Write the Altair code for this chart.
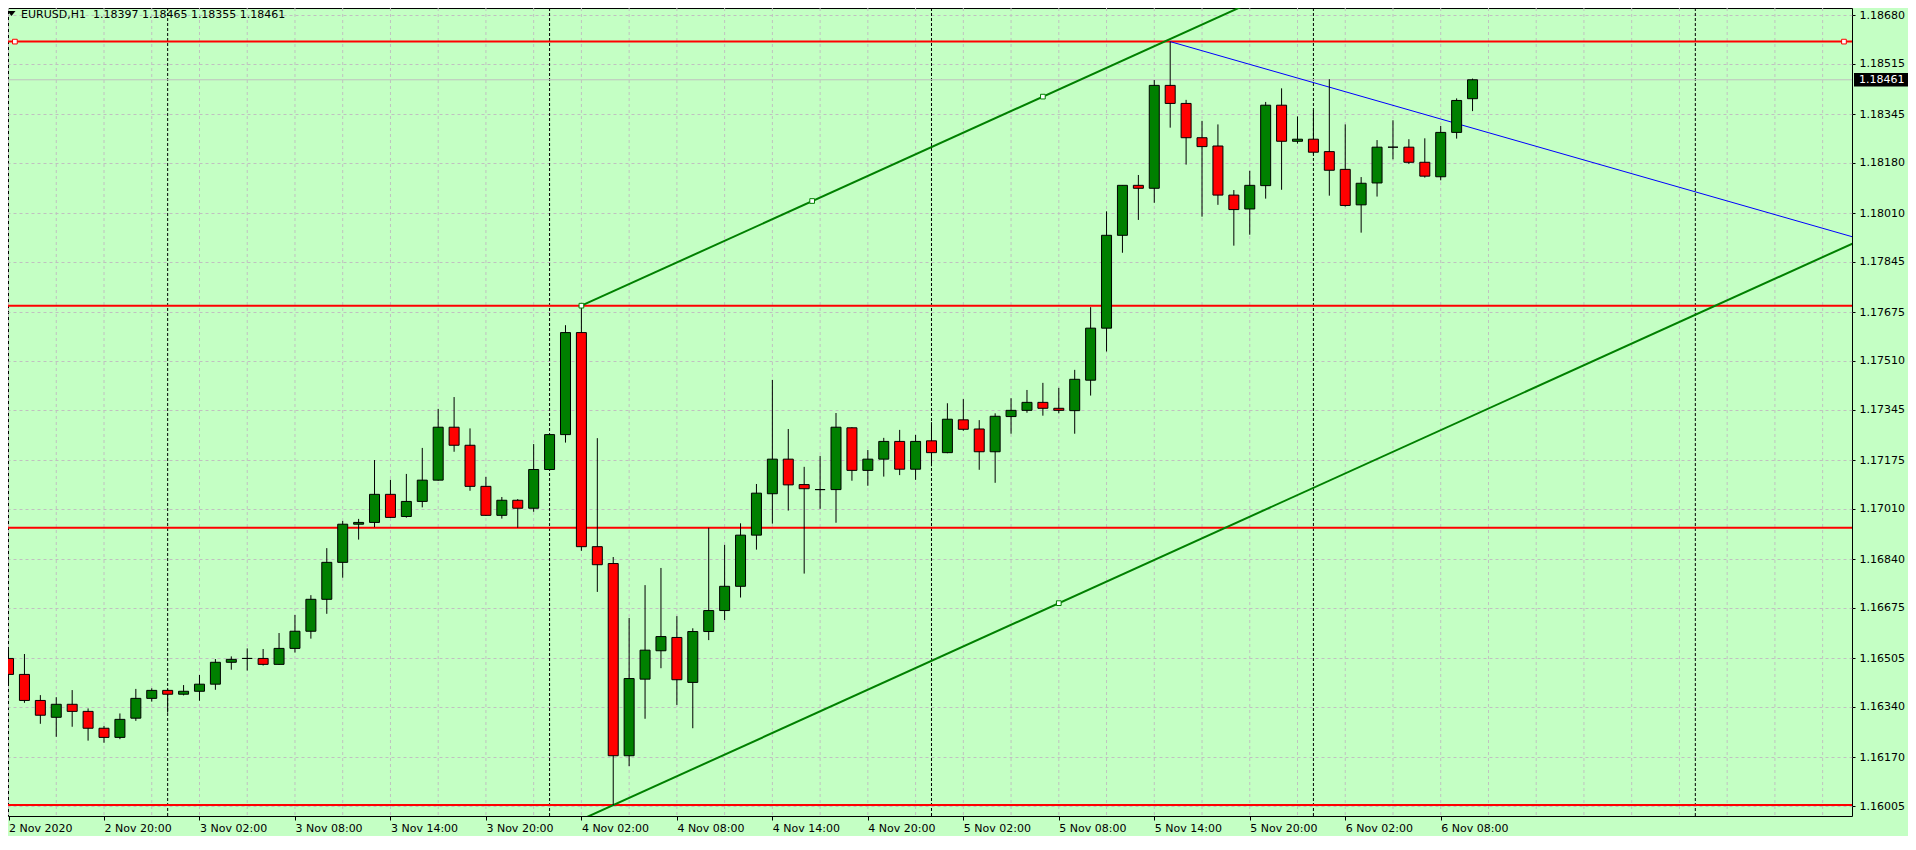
import json
import altair as alt
import pandas as pd

# ---------------- data ----------------
bars = list(range(93))  # hourly bars, bar 0 = 2 Nov 2020 14:00
opens = [1.16504, 1.16450, 1.16362, 1.16305, 1.16349, 1.16325, 1.16268, 1.16237, 1.16302, 1.16369,
         1.16396, 1.16383, 1.16393, 1.16417, 1.16491, 1.16504, 1.16504, 1.16484, 1.16538, 1.16596,
         1.16704, 1.16829, 1.16958, 1.16964, 1.17059, 1.16984, 1.17035, 1.17107, 1.17286, 1.17225,
         1.17086, 1.16988, 1.17039, 1.17012, 1.17143, 1.17261, 1.17606, 1.16882, 1.16825, 1.16175,
         1.16434, 1.16530, 1.16575, 1.16423, 1.16595, 1.16666, 1.16748, 1.16921, 1.17061, 1.17178,
         1.17092, 1.17075, 1.17075, 1.17284, 1.17140, 1.17178, 1.17238, 1.17144, 1.17240, 1.17200,
         1.17311, 1.17280, 1.17203, 1.17322, 1.17343, 1.17370, 1.17350, 1.17342, 1.17445, 1.17621,
         1.17935, 1.18104, 1.18094, 1.18442, 1.18381, 1.18265, 1.18237, 1.18071, 1.18024, 1.18103,
         1.18375, 1.18253, 1.18260, 1.18218, 1.18158, 1.18038, 1.18112, 1.18233, 1.18233, 1.18182,
         1.18133, 1.18283, 1.18397]
highs = [1.16535, 1.16519, 1.16380, 1.16373, 1.16397, 1.16335, 1.16276, 1.16318, 1.16401, 1.16403,
         1.16401, 1.16414, 1.16448, 1.16502, 1.16511, 1.16538, 1.16536, 1.16590, 1.16651, 1.16718,
         1.16877, 1.16969, 1.16976, 1.17175, 1.17108, 1.17128, 1.17216, 1.17348, 1.17388, 1.17282,
         1.17118, 1.17050, 1.17043, 1.17229, 1.17263, 1.17631, 1.17697, 1.17249, 1.16847, 1.16641,
         1.16752, 1.16810, 1.16647, 1.16606, 1.16946, 1.16888, 1.16961, 1.17094, 1.17446, 1.17280,
         1.17152, 1.17189, 1.17334, 1.17286, 1.17209, 1.17250, 1.17277, 1.17260, 1.17303, 1.17367,
         1.17381, 1.17310, 1.17333, 1.17384, 1.17412, 1.17436, 1.17419, 1.17480, 1.17692, 1.18016,
         1.18104, 1.18139, 1.18460, 1.18590, 1.18393, 1.18322, 1.18310, 1.18088, 1.18153, 1.18386,
         1.18432, 1.18337, 1.18358, 1.18463, 1.18310, 1.18132, 1.18257, 1.18324, 1.18260, 1.18263,
         1.18305, 1.18398, 1.18465]
lows = [1.16420, 1.16354, 1.16283, 1.16239, 1.16273, 1.16226, 1.16219, 1.16231, 1.16293, 1.16358,
        1.16321, 1.16379, 1.16361, 1.16398, 1.16466, 1.16463, 1.16480, 1.16482, 1.16524, 1.16571,
        1.16655, 1.16777, 1.16906, 1.16948, 1.16979, 1.16980, 1.17015, 1.17105, 1.17203, 1.17071,
        1.16986, 1.16977, 1.16946, 1.17000, 1.17141, 1.17234, 1.16868, 1.16729, 1.16008, 1.16140,
        1.16300, 1.16471, 1.16347, 1.16268, 1.16566, 1.16634, 1.16710, 1.16872, 1.16960, 1.17004,
        1.16791, 1.17010, 1.16963, 1.17105, 1.17088, 1.17119, 1.17124, 1.17108, 1.17154, 1.17198,
        1.17274, 1.17142, 1.17098, 1.17264, 1.17335, 1.17325, 1.17333, 1.17264, 1.17393, 1.17542,
        1.17876, 1.17987, 1.18045, 1.18299, 1.18174, 1.17998, 1.18038, 1.17900, 1.17937, 1.18059,
        1.18089, 1.18245, 1.18209, 1.18069, 1.18032, 1.17944, 1.18066, 1.18192, 1.18176, 1.18130,
        1.18121, 1.18262, 1.18355]
closes = [1.16450, 1.16362, 1.16312, 1.16349, 1.16325, 1.16268, 1.16237, 1.16298, 1.16369, 1.16396,
          1.16383, 1.16393, 1.16417, 1.16491, 1.16501, 1.16504, 1.16484, 1.16538, 1.16596, 1.16704,
          1.16829, 1.16958, 1.16964, 1.17059, 1.16981, 1.17035, 1.17107, 1.17286, 1.17225, 1.17086,
          1.16988, 1.17039, 1.17012, 1.17143, 1.17261, 1.17606, 1.16882, 1.16821, 1.16175, 1.16436,
          1.16532, 1.16578, 1.16432, 1.16595, 1.16666, 1.16748, 1.16921, 1.17063, 1.17178, 1.17091,
          1.17078, 1.17075, 1.17286, 1.17140, 1.17178, 1.17238, 1.17144, 1.17238, 1.17200, 1.17313,
          1.17279, 1.17203, 1.17323, 1.17343, 1.17370, 1.17350, 1.17343, 1.17448, 1.17621, 1.17935,
          1.18104, 1.18094, 1.18442, 1.18381, 1.18265, 1.18235, 1.18071, 1.18022, 1.18104, 1.18375,
          1.18253, 1.18260, 1.18216, 1.18155, 1.18036, 1.18111, 1.18233, 1.18233, 1.18182, 1.18135,
          1.18283, 1.18391, 1.18461]

x_label_bars = [0, 6, 12, 18, 24, 30, 36, 42, 48, 54, 60, 66, 72, 78, 84, 90]
x_labels = ["2 Nov 2020", "2 Nov 20:00", "3 Nov 02:00", "3 Nov 08:00", "3 Nov 14:00",
            "3 Nov 20:00", "4 Nov 02:00", "4 Nov 08:00", "4 Nov 14:00", "4 Nov 20:00",
            "5 Nov 02:00", "5 Nov 08:00", "5 Nov 14:00", "5 Nov 20:00", "6 Nov 02:00",
            "6 Nov 08:00"]
y_ticks = [1.18680, 1.18515, 1.18345, 1.18180, 1.18010, 1.17845, 1.17675, 1.17510, 1.17345,
           1.17175, 1.17010, 1.16840, 1.16675, 1.16505, 1.16340, 1.16170, 1.16005]

grid_bars = list(range(0, 115, 3))
day_break_bars = [10, 34, 58, 82, 106]
red_levels = [1.18590, 1.17697, 1.16946, 1.16008]
bid_price = 1.18461
title_text = "EURUSD,H1\u00a0 1.18397 1.18465 1.18355 1.18461"

upper_bars = [36, 116]
upper_prices = [1.17697, 1.19647]
lower_bars = [30, 116]
lower_prices = [1.15813, 1.17910]
blue_bars = [73, 116]
blue_prices = [1.18590, 1.17928]

green_handle_bars = [36, 50.5, 65, 66]
green_handle_prices = [1.17697, 1.18051, 1.18404, 1.16691]
red_handle_bars = [0.4, 115.34]
red_handle_prices = [1.18590, 1.18590]

# ---------------- styling / layout ----------------
BG = "#C4FFC4"
GRID = "#C0C0C0"
FONT = "DejaVu Sans"
W, H = 1844, 808
X_SCALE = alt.Scale(domain=[0.28125, 115.53125], nice=False, zero=False)
Y_SCALE = alt.Scale(domain=[1.159712, 1.187037], nice=False, zero=False)

dirs = ["up" if c > o else ("down" if c < o else "flat") for o, c in zip(opens, closes)]
candles = pd.DataFrame({"bar": bars, "open": opens, "high": highs, "low": lows,
                        "close": closes, "dir": dirs})

label_expr = json.dumps(x_labels) + "[round(datum.value / 6)]"
X_AXIS = alt.Axis(values=x_label_bars, labelExpr=label_expr, labelAlign="left",
                  labelBaseline="top", labelPadding=2, tickSize=4, tickColor="black",
                  domain=False, grid=False, labelFont=FONT, labelFontSize=11,
                  labelColor="black", title=None, labelOverlap=False, labelFlush=False,
                  orient="bottom")
Y_AXIS = alt.Axis(values=y_ticks, format=".5f", orient="right", labelPadding=4, tickSize=3,
                  tickColor="black", domain=False, grid=True, gridColor=GRID,
                  gridDash=[3, 3], gridWidth=1, labelFont=FONT, labelFontSize=11,
                  labelColor="black", title=None, labelOverlap=False, labelFlush=False)


def xq(field):
    return alt.X(field, type="quantitative", scale=X_SCALE, axis=X_AXIS)


def yq(field):
    return alt.Y(field, type="quantitative", scale=Y_SCALE, axis=Y_AXIS)


vgrid = alt.Chart(pd.DataFrame({"bar": grid_bars})).mark_rule(
    color=GRID, strokeDash=[3, 3], strokeWidth=1).encode(x=xq("bar"))

day_sep = alt.Chart(pd.DataFrame({"bar": day_break_bars})).mark_rule(
    color="black", strokeDash=[3, 2], strokeWidth=1).encode(x=xq("bar"))

bid_line = alt.Chart(pd.DataFrame({"p": [bid_price]})).mark_rule(
    color=GRID, strokeWidth=1).encode(y=yq("p"))

red_lines = alt.Chart(pd.DataFrame({"p": red_levels})).mark_rule(
    color="#FF0000", strokeWidth=2).encode(y=yq("p"))

upper = alt.Chart(pd.DataFrame({"bar": upper_bars, "p": upper_prices})).mark_line(
    color="#008000", strokeWidth=2, clip=True).encode(x=xq("bar"), y=yq("p"))
lower = alt.Chart(pd.DataFrame({"bar": lower_bars, "p": lower_prices})).mark_line(
    color="#008000", strokeWidth=2, clip=True).encode(x=xq("bar"), y=yq("p"))
blue = alt.Chart(pd.DataFrame({"bar": blue_bars, "p": blue_prices})).mark_line(
    color="#0000FF", strokeWidth=1, clip=True).encode(x=xq("bar"), y=yq("p"))

wicks = alt.Chart(candles).mark_rule(color="black", strokeWidth=1, clip=True).encode(
    x=xq("bar"), y=yq("low"), y2="high:Q")

bodies = alt.Chart(candles).mark_bar(size=10, stroke="black", strokeWidth=1, clip=True,
                                     opacity=1).encode(
    x=xq("bar"), y=yq("open"), y2="close:Q",
    color=alt.Color("dir:N", scale=alt.Scale(domain=["up", "down", "flat"],
                                             range=["#008000", "#FF0000", "#000000"]),
                    legend=None))

green_handles = alt.Chart(pd.DataFrame({"bar": green_handle_bars, "p": green_handle_prices})).mark_point(
    shape="square", size=22, filled=True, fill="white", stroke="#008000", strokeWidth=1,
    opacity=1).encode(x=xq("bar"), y=yq("p"))
red_handles = alt.Chart(pd.DataFrame({"bar": red_handle_bars, "p": red_handle_prices})).mark_point(
    shape="square", size=22, filled=True, fill="white", stroke="#FF0000", strokeWidth=1,
    opacity=1).encode(x=xq("bar"), y=yq("p"))

title_df = pd.DataFrame({"t": [title_text]})
title = alt.Chart(title_df).mark_text(align="left", baseline="alphabetic", font=FONT,
                                      fontSize=11, color="black").encode(
    x=alt.value(13), y=alt.value(10), text="t:N")
triangle = alt.Chart(title_df).mark_point(shape="M-1,-0.6L1,-0.6L0,0.6Z", size=64,
                                          filled=True, color="black", opacity=1).encode(
    x=alt.value(3.5), y=alt.value(5.5))

bid_df = pd.DataFrame({"p": [bid_price], "t": [f"{bid_price:.5f}"]})
price_box = alt.Chart(bid_df).mark_point(shape="M-1,-0.24L1,-0.24L1,0.24L-1,0.24Z", size=3136,
                                         filled=True, color="black", opacity=1).encode(
    x=alt.value(W + 30), y=yq("p"))
price_text = alt.Chart(bid_df).mark_text(align="left", baseline="middle", font=FONT,
                                         fontSize=11, color="white").encode(
    x=alt.value(W + 7), y=yq("p"), text="t:N")

chart = alt.layer(
    vgrid, day_sep, bid_line, red_lines, upper, lower, blue, wicks, bodies,
    green_handles, red_handles, title, triangle, price_box, price_text
).properties(
    width=W, height=H,
    padding={"left": 0, "top": 0, "right": 56, "bottom": 20},
    autosize=alt.AutoSizeParams(type="none"),
    background=BG,
).configure_view(fill=BG, stroke="black", strokeWidth=1)

chart.save("out.html", embed_options={"renderer": "svg", "actions": False})
